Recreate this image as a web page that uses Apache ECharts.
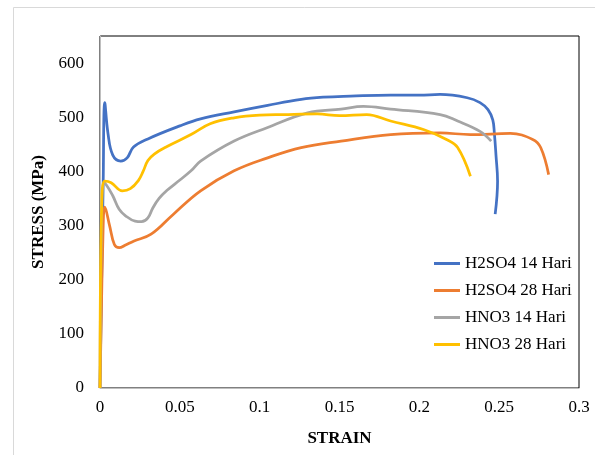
<!DOCTYPE html>
<html>
<head>
<meta charset="utf-8">
<script src="https://cdn.jsdelivr.net/npm/echarts@6/dist/echarts.min.js"></script>
<style>html,body{margin:0;padding:0;background:#fff}#c{width:595px;height:455px}</style>
</head>
<body>
<div id="c"></div>
<script>
var seriesNames = ['H2SO4 14 Hari', 'H2SO4 28 Hari', 'HNO3 14 Hari', 'HNO3 28 Hari'];
var colors = ['#4472C4', '#ED7D31', '#A5A5A5', '#FFC000'];

var h2so4_14_strain = [0, 0.002, 0.003, 0.005, 0.008, 0.013, 0.017, 0.021, 0.03, 0.05, 0.063, 0.084, 0.105, 0.126, 0.14, 0.157, 0.182, 0.2, 0.213, 0.23, 0.238, 0.243, 0.246, 0.247, 0.248, 0.249, 0.2475];
var h2so4_14_stress = [0, 380, 527, 470, 430, 419, 425, 445, 460, 484, 497, 510, 522, 533, 537, 539, 541, 541, 542, 536, 527, 514, 495, 470, 430, 382, 321];

var h2so4_28_strain = [0, 0.002, 0.003, 0.006, 0.009, 0.012, 0.016, 0.021, 0.032, 0.046, 0.063, 0.084, 0.105, 0.126, 0.151, 0.182, 0.213, 0.232, 0.257, 0.271, 0.276, 0.281];
var h2so4_28_stress = [0, 300, 334, 300, 265, 259, 264, 271, 284, 321, 364, 401, 425, 444, 456, 468, 471, 468, 470, 459, 444, 394];

var hno3_14_strain = [0, 0.002, 0.004, 0.008, 0.012, 0.016, 0.022, 0.026, 0.03, 0.033, 0.037, 0.042, 0.05, 0.057, 0.063, 0.084, 0.105, 0.13, 0.151, 0.165, 0.182, 0.213, 0.224, 0.238, 0.245];
var hno3_14_stress = [0, 380, 375, 355, 330, 318, 308, 307, 314, 332, 350, 365, 384, 401, 419, 456, 481, 508, 515, 520, 515, 505, 493, 474, 456];

var hno3_28_strain = [0, 0.001, 0.003, 0.007, 0.014, 0.019, 0.024, 0.027, 0.03, 0.034, 0.042, 0.057, 0.069, 0.084, 0.1, 0.115, 0.136, 0.15, 0.167, 0.182, 0.203, 0.217, 0.224, 0.232];
var hno3_28_stress = [0, 330, 382, 379, 364, 368, 383, 400, 420, 432, 446, 468, 488, 499, 504, 505, 506, 503, 505, 493, 477, 459, 444, 391];

var xTicks = { min: 0, max: 0.3, interval: 0.05 };
var yTicks = { min: 0, max: 650, interval: 100 };

function zip(a, b) { return a.map(function (v, i) { return [v, b[i]]; }); }
var allData = [
  zip(h2so4_14_strain, h2so4_14_stress),
  zip(h2so4_28_strain, h2so4_28_stress),
  zip(hno3_14_strain, hno3_14_stress),
  zip(hno3_28_strain, hno3_28_stress)
];

var chart = echarts.init(document.getElementById('c'), null, { renderer: 'canvas' });
var font = 'Liberation Serif';
chart.setOption({
  animation: false,
  backgroundColor: '#fff',
  graphic: [{
    type: 'rect', shape: { x: 13.5, y: 7.5, width: 600, height: 460 },
    style: { fill: 'none', stroke: '#d9d9d9', lineWidth: 1 }, silent: true
  }],
  grid: { left: 100, right: 16, top: 36, bottom: 67, show: true, borderColor: '#000', borderWidth: 1, backgroundColor: 'transparent' },
  legend: {
    orient: 'vertical', left: 429, top: 250, itemGap: 10, itemWidth: 26, itemHeight: 17,
    textStyle: { fontFamily: font, fontSize: 17, color: '#000' },
    data: seriesNames.map(function (n) { return { name: n, icon: 'path://M0,7 L26,7 L26,10 L0,10 Z' }; })
  },
  xAxis: {
    type: 'value', min: xTicks.min, max: xTicks.max, interval: xTicks.interval,
    name: 'STRAIN', nameLocation: 'middle', nameGap: 42,
    nameTextStyle: { fontFamily: font, fontSize: 17, fontWeight: 'bold', color: '#000' },
    axisLine: { show: true, lineStyle: { color: '#bfbfbf', width: 1 } },
    axisTick: { show: false },
    splitLine: { show: false },
    axisLabel: { fontFamily: font, fontSize: 17, color: '#000', margin: 11 }
  },
  yAxis: {
    type: 'value', min: yTicks.min, max: yTicks.max, interval: yTicks.interval,
    name: 'STRESS (MPa)', nameLocation: 'middle', nameGap: 42, nameRotate: 90,
    nameTextStyle: { fontFamily: font, fontSize: 17, fontWeight: 'bold', color: '#000' },
    axisLine: { show: true, lineStyle: { color: '#bfbfbf', width: 1 } },
    axisTick: { show: false },
    splitLine: { show: false },
    axisLabel: { fontFamily: font, fontSize: 17, color: '#000', margin: 16,
      formatter: function (v) { return v > 600 ? '' : String(v); } }
  },
  series: allData.map(function (d, i) {
    return {
      name: seriesNames[i], type: 'line', data: d, smooth: 0.4, symbol: 'none',
      lineStyle: { color: colors[i], width: 2.75 }, itemStyle: { color: colors[i] }
    };
  })
});
</script>
</body>
</html>
